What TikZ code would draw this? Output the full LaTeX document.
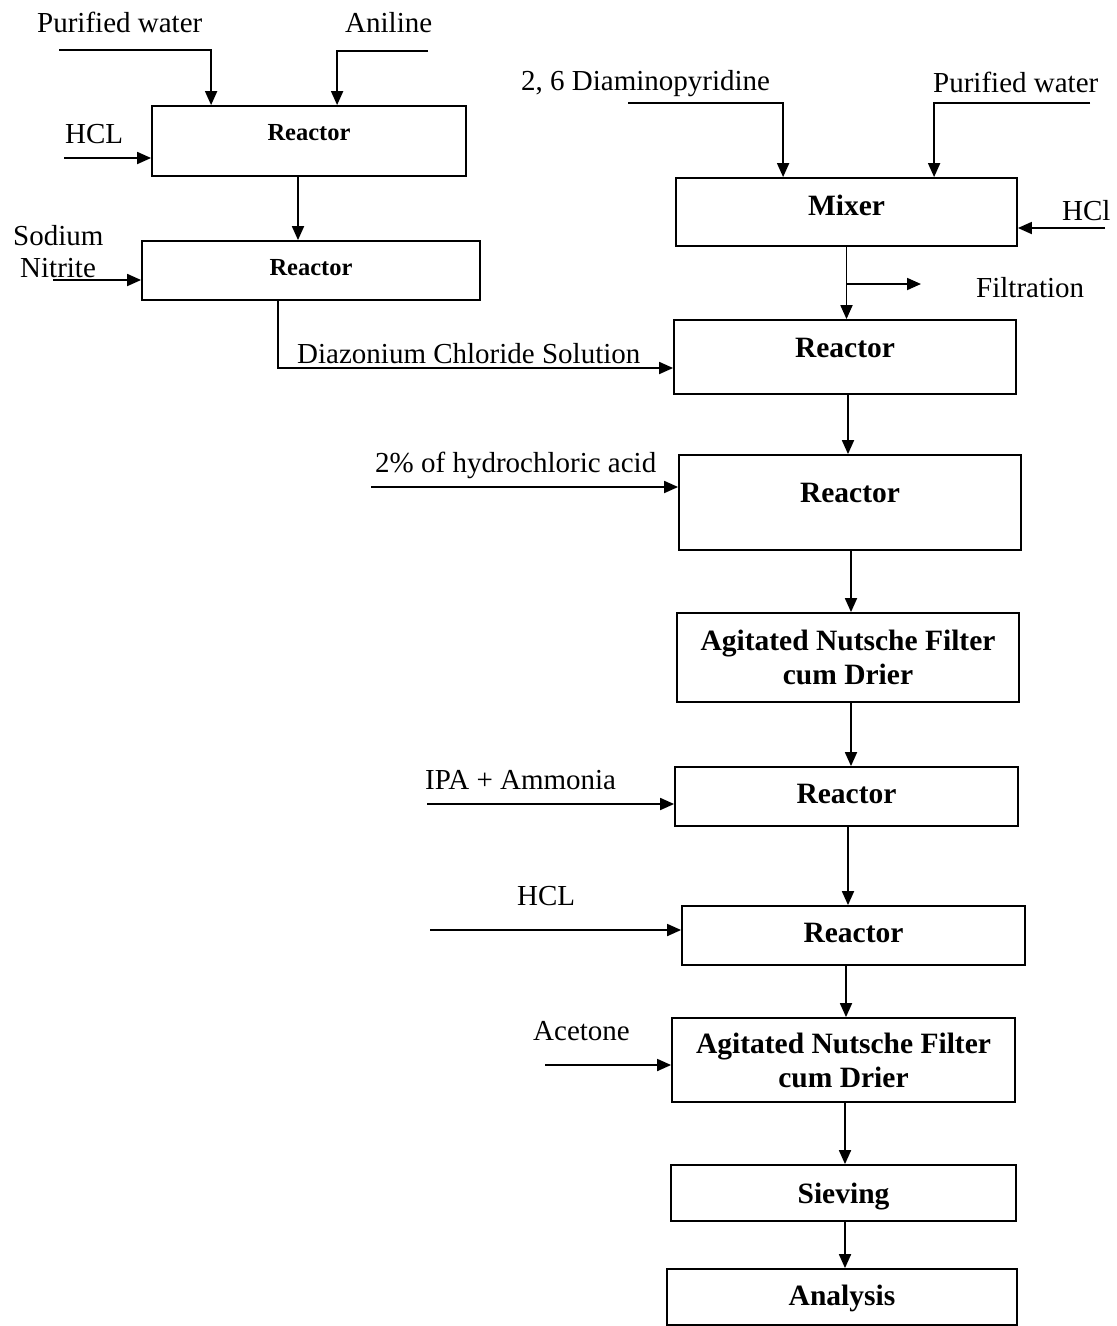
\documentclass[tikz,border=0pt]{standalone}
\usepackage{fontspec}
\setmainfont{Liberation Serif}
\usetikzlibrary{arrows.meta,calc}
\begin{document}
\begin{tikzpicture}[x=1pt,y=-1pt,
  lbl/.style={anchor=base west,inner sep=0pt,font=\fontsize{29}{34}\selectfont},
  box/.style={draw,line width=1.8pt,inner sep=0pt,align=center,text height=20pt,
    font=\fontsize{29.5}{34}\selectfont\bfseries},
  sbox/.style={box,font=\fontsize{24.5}{28}\selectfont\bfseries},
  arr/.style={line width=1.8pt,-{Triangle[length=14pt,width=12pt]}},
  ln/.style={line width=1.8pt}]
\useasboundingbox (0,0) rectangle (1117,1326);
% boxes
\node[sbox,minimum width=314pt,minimum height=70pt,text depth=22pt] (R1) at (309,141) {Reactor};
\node[sbox,minimum width=338pt,minimum height=59pt,text depth=11pt] (R2) at (311,270.5) {Reactor};
\node[box,minimum width=341pt,minimum height=68pt,text depth=14pt] (MX) at (846.5,212) {Mixer};
\node[box,minimum width=342pt,minimum height=74pt,text depth=20pt] (R3) at (845,357) {Reactor};
\node[box,minimum width=342pt,minimum height=95pt,text depth=21pt] (R4) at (850,502.5) {Reactor};
\node[box,minimum width=342pt,minimum height=89pt,text height=,text depth=] (F1) at (848,657.5) {Agitated Nutsche Filter\\cum Drier};
\node[box,minimum width=343pt,minimum height=59pt,text depth=7pt] (R5) at (846.5,796.5) {Reactor};
\node[box,minimum width=343pt,minimum height=59pt,text depth=7pt] (R6) at (853.5,935.5) {Reactor};
\node[box,minimum width=343pt,minimum height=84pt,text height=,text depth=] (F2) at (843.5,1060) {Agitated Nutsche Filter\\cum Drier};
\node[box,minimum width=345pt,minimum height=56pt,text depth=0pt] (SV) at (843.5,1193) {Sieving};
\node[box,minimum width=350pt,minimum height=56pt,text depth=3pt] (AN) at (842,1297) {Analysis};
% labels
\node[lbl] (Lpw1) at (37,32) {Purified water};
\node[lbl] (Lan) at (345,32) {Aniline};
\node[lbl] (Lhcl1) at (65,143) {HCL};
\node[lbl] (Lsod) at (13,245) {Sodium};
\node[lbl] (Lnit) at (20,277) {Nitrite};
\node[lbl] (Ldia) at (297,363) {Diazonium Chloride Solution};
\node[lbl] (Ldap) at (521,90) {2, 6 Diaminopyridine};
\node[lbl] (Lpw2) at (933,92) {Purified water};
\node[lbl] (Lhcl2) at (1062,220) {HCl};
\node[lbl] (Lfil) at (976,297) {Filtration};
\node[lbl] (Lhca) at (375,472) {2\% of hydrochloric acid};
\node[lbl] (Lipa) at (425,789) {IPA + Ammonia};
\node[lbl] (Lhcl3) at (517,905) {HCL};
\node[lbl] (Lace) at (533,1040) {Acetone};
% free ends
\coordinate (pw1) at (59,50);
\coordinate (an1) at (428,51);
\coordinate (hcl1) at (64,158);
\coordinate (sn1) at (53,280);
\coordinate (dap1) at (628,103);
\coordinate (pw2) at (1090,103);
\coordinate (hcl2) at (1105,228);
\coordinate (filtEnd) at (921,284);
\coordinate (hca1) at (371,487);
\coordinate (ipa1) at (427,804);
\coordinate (hcl3) at (430,930);
\coordinate (ace1) at (545,1065);
% inputs
\draw[arr] (pw1) -| ([xshift=60pt]R1.north west);
\draw[arr] (an1) -| ([xshift=186pt]R1.north west);
\draw[arr] (hcl1) -- (hcl1 -| R1.west);
\draw[arr] (sn1) -- (sn1 -| R2.west);
\draw[arr] (dap1) -| ([xshift=108pt]MX.north west);
\draw[arr] (pw2) -| ([xshift=259pt]MX.north west);
\draw[arr] (hcl2) -- (hcl2 -| MX.east);
\draw[arr] (hca1) -- (hca1 -| R4.west);
\draw[arr] (ipa1) -- (ipa1 -| R5.west);
\draw[arr] (hcl3) -- (hcl3 -| R6.west);
\draw[arr] (ace1) -- (ace1 -| F2.west);
% main flow
\draw[arr] ([xshift=-11pt]R1.south) coordinate (t1) -- (t1 |- R2.north);
\draw[arr] ([xshift=-33pt]R2.south) |- ([yshift=-11pt]R3.west);
\draw[arr] (MX.south) coordinate (t2) -- (t2 |- R3.north);
\draw[arr] (filtEnd -| MX.south) -- (filtEnd);
\draw[arr] ([xshift=3pt]R3.south) coordinate (t3) -- (t3 |- R4.north);
\draw[arr] ([xshift=1pt]R4.south) coordinate (t4) -- (t4 |- F1.north);
\draw[arr] ([xshift=3pt]F1.south) coordinate (t5) -- (t5 |- R5.north);
\draw[arr] ([xshift=1.5pt]R5.south) coordinate (t6) -- (t6 |- R6.north);
\draw[arr] ([xshift=-7.5pt]R6.south) coordinate (t7) -- (t7 |- F2.north);
\draw[arr] ([xshift=1.5pt]F2.south) coordinate (t8) -- (t8 |- SV.north);
\draw[arr] ([xshift=1.5pt]SV.south) coordinate (t9) -- (t9 |- AN.north);
\end{tikzpicture}
\end{document}
